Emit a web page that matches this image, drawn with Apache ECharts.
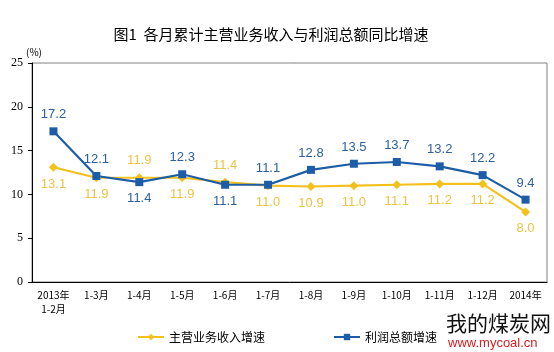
<!DOCTYPE html>
<html><head><meta charset="utf-8">
<script src="https://cdn.jsdelivr.net/npm/echarts@6/dist/echarts.min.js"></script>
<style>html,body{margin:0;padding:0;background:#fff}#c{width:554px;height:352px}</style>
</head><body><div id="c"></div>
<script>
const categories = ['2013年\n1-2月','1-3月','1-4月','1-5月','1-6月','1-7月','1-8月','1-9月','1-10月','1-11月','1-12月','2014年'];
const revenueGrowth = [13.1,11.9,11.9,11.9,11.4,11.0,10.9,11.0,11.1,11.2,11.2,8.0];
const profitGrowth  = [17.2,12.1,11.4,12.3,11.1,11.1,12.8,13.5,13.7,13.2,12.2,9.4];
const yTicks = [0,5,10,15,20,25];

const YEL = '#F2C11C', YEL_L = '#EAC545', BLU = '#1D5DA8', BLU_L = '#2E5F9C';
function mk(vals, other){
  return vals.map((v,i)=>({value:v,label:{position: v>=other[i] ? 'top':'bottom', distance:6}}));
}
const chart = echarts.init(document.getElementById('c'));
chart.setOption({
  animation:false,
  title:{text:'图1  各月累计主营业务收入与利润总额同比增速',left:266,textAlign:'center',top:22,
    textStyle:{fontFamily:'Noto Sans CJK SC',fontSize:15,fontWeight:'normal',color:'#000'}},
  grid:{left:32,right:7,top:63,bottom:70,show:true,borderColor:'#808080',borderWidth:1},
  legend:{left:132,top:326,itemGap:68,itemWidth:26,itemHeight:8,
    textStyle:{fontFamily:'Noto Sans CJK SC',fontSize:12,color:'#000'},
    data:['主营业务收入增速','利润总额增速']},
  xAxis:{type:'category',data:categories,boundaryGap:true,
    axisLine:{lineStyle:{color:'#000',width:1}},
    axisTick:{inside:true,length:4,lineStyle:{color:'#000'}},
    axisLabel:{interval:0,fontFamily:'Noto Sans CJK SC',fontSize:10,color:'#000',lineHeight:14,margin:6}},
  yAxis:{type:'value',min:0,max:25,interval:5,name:'(%)',nameLocation:'end',nameGap:6,
    nameTextStyle:{fontFamily:'Noto Sans CJK SC',fontSize:10,color:'#000',align:'left',padding:[0,0,0,-6]},
    axisLine:{show:true,lineStyle:{color:'#000'}},
    axisTick:{show:true,length:4,lineStyle:{color:'#000'}},
    splitLine:{show:false},
    axisLabel:{fontFamily:'Liberation Serif',fontSize:12,color:'#000',margin:9,
      formatter:v=>yTicks.includes(v)?String(v):''}},
  series:[
    {name:'主营业务收入增速',type:'line',data:mk(revenueGrowth,profitGrowth),
     symbol:'diamond',symbolSize:9,color:YEL,lineStyle:{width:2.2,color:YEL},itemStyle:{color:YEL},
     label:{show:true,formatter:p=>p.value.toFixed(1),color:YEL_L,fontFamily:'Liberation Sans',fontSize:13}},
    {name:'利润总额增速',type:'line',data:mk(profitGrowth,revenueGrowth),
     symbol:'rect',symbolSize:8,color:BLU,lineStyle:{width:2.2,color:BLU},itemStyle:{color:BLU},
     label:{show:true,formatter:p=>p.value.toFixed(1),color:BLU_L,fontFamily:'Liberation Sans',fontSize:13}}
  ],
  graphic:[
    {type:'text',left:446,top:313,z:100,style:{text:'我的煤炭网',fontFamily:'Noto Sans CJK SC',fontSize:21,fill:'#111'}},
    {type:'text',left:448,top:337,z:100,style:{text:'www.mycoal.cn',fontFamily:'Liberation Sans',fontSize:13,fill:'#d42020'}}
  ]
});
</script></body></html>
